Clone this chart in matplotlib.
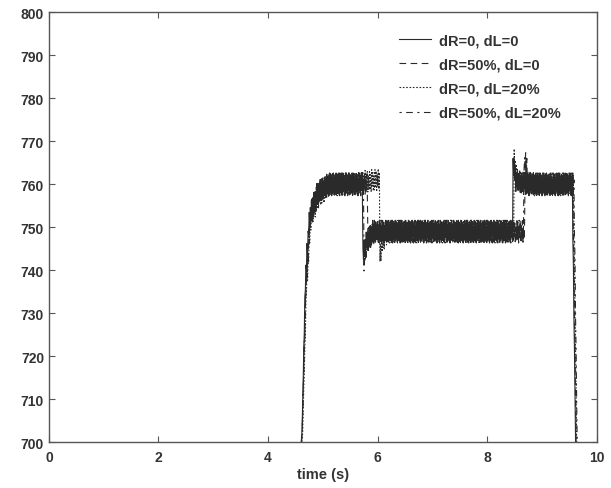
import numpy as np
import matplotlib
matplotlib.use("Agg")
import matplotlib.pyplot as plt

plt.rcParams['font.family'] = ['Liberation Sans', 'DejaVu Sans']

# mean trajectory of each run (time s, value)
t_keys_a = [4.55, 4.62, 4.68, 4.76, 4.90, 5.10, 5.40, 5.72, 5.73, 5.78, 5.90, 6.10,
            8.46, 8.47, 8.52, 8.70, 9.55, 9.62]
v_keys_a = [690, 703, 738, 753, 758, 760, 760, 760, 744, 746, 749, 749,
            749, 765, 761, 760, 760, 690]

t_keys_b = [4.55, 4.62, 4.69, 4.77, 4.91, 5.12, 5.40, 5.81, 5.82, 5.88, 6.00, 6.10,
            8.68, 8.69, 8.74, 8.85, 9.56, 9.63]
v_keys_b = [690, 702, 736, 752, 758, 760, 760, 760, 747, 748, 749, 749,
            749, 767, 761, 760, 760, 690]

t_keys_c = [4.55, 4.63, 4.70, 4.78, 4.92, 5.14, 5.40, 6.03, 6.04, 6.09, 6.20, 6.30,
            8.48, 8.49, 8.54, 8.70, 9.57, 9.64]
v_keys_c = [690, 702, 736, 752, 757, 760, 760, 761, 743, 747, 749, 749,
            749, 766, 761, 760, 760, 690]

t_keys_d = [4.55, 4.62, 4.69, 4.77, 4.91, 5.12, 5.40, 5.74, 5.75, 5.80, 5.92, 6.05,
            8.66, 8.67, 8.72, 8.85, 9.58, 9.65]
v_keys_d = [690, 702, 737, 753, 758, 760, 760, 760, 742, 746, 749, 749,
            749, 766, 761, 760, 760, 690]

# ripple seen on every trace (about +/-2.5 around the mean)
ripple = [2.2, -2.0, 1.5, -2.6, 2.6, -1.2, 1.9, -2.4, 1.0, -2.2,
          2.5, -1.7, 2.1, -2.7, 1.3, -1.5, 2.6, -2.1, 1.7, -1.0,
          2.3, -2.5, 1.2, -1.9]

labels = ['dR=0, dL=0', 'dR=50%, dL=0', 'dR=0, dL=20%', 'dR=50%, dL=20%']
styles = ['-', (0, (6, 4)), (0, (1.5, 1.5)), (0, (2, 4, 6, 4))]

t = np.arange(4.55, 9.70, 0.01)


def trace(tk, vk, shift):
    base = np.interp(t, tk, vk)
    rip = np.resize(np.roll(ripple, shift), t.size)
    # ripple only where the trace is up in the plotted band
    w = np.clip((base - 700) / 40.0, 0, 1)
    return base + rip * w


fig = plt.figure(figsize=(6.11, 4.89), dpi=100)
ax = fig.add_axes([0.080, 0.094, 0.897, 0.879])

series = [(t_keys_a, v_keys_a), (t_keys_b, v_keys_b),
          (t_keys_c, v_keys_c), (t_keys_d, v_keys_d)]
for i, (tk, vk) in enumerate(series):
    ax.plot(t, trace(tk, vk, 5 * i), color='#2a2a2a', lw=0.8,
            linestyle=styles[i], label=labels[i])

ax.set_xlim(0, 10)
ax.set_ylim(700, 800)
ax.set_xticks(range(0, 11, 2))
ax.set_yticks(range(700, 801, 10))
ax.set_xlabel('time (s)', fontsize=10.5, fontweight='bold', color='#333333', labelpad=2)

ax.tick_params(direction='in', top=True, right=True, length=4,
               color='#555555', labelsize=10, labelcolor='#333333')
ax.tick_params(axis='x', pad=6)
for lab in ax.get_xticklabels() + ax.get_yticklabels():
    lab.set_fontweight('bold')
for sp in ax.spines.values():
    sp.set_color('#555555')
    sp.set_linewidth(1.0)

leg = ax.legend(loc='upper right', bbox_to_anchor=(0.957, 0.982), frameon=False,
                handlelength=2.2, handletextpad=0.5, labelspacing=0.7,
                prop={'weight': 'bold', 'size': 10.5})
for txt in leg.get_texts():
    txt.set_color('#333333')

fig.savefig('out.png', dpi=100)
